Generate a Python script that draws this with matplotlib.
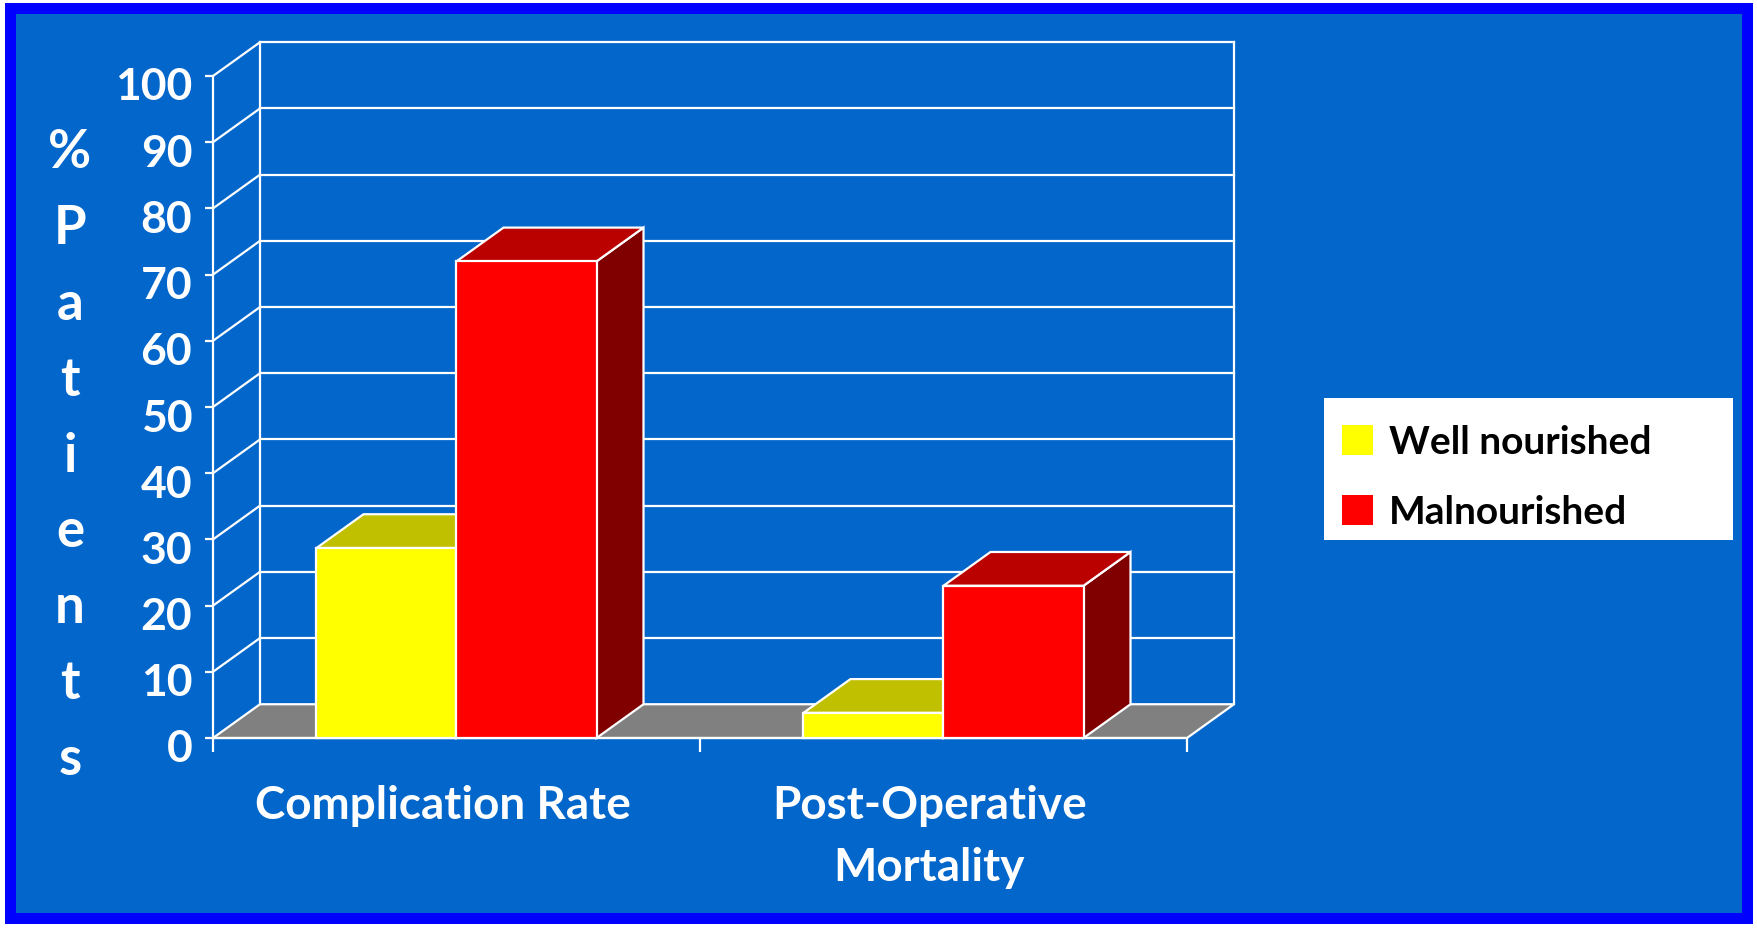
import matplotlib
matplotlib.use("Agg")
import matplotlib.pyplot as plt
from matplotlib.patches import Polygon, Rectangle, Patch
from matplotlib.transforms import ScaledTranslation

# data
categories = ["Complication Rate", "Post-Operative\nMortality"]
series_names = ["Well nourished", "Malnourished"]
well_nourished = [28.7, 3.8]
malnourished = [72, 23]
y_ticks = list(range(0, 101, 10))
y_label = "%\nP\na\nt\ni\ne\nn\nt\ns"

# style
BG = "#0366CB"
BORDER = "#0000FF"
FRONT = ["#FFFF00", "#FF0000"]
TOP = ["#C0C000", "#BB0000"]
SIDE = ["#808000", "#800000"]
FLOOR = "#808080"
DX, DY = 0.0965, 5.1      # fake depth, in data units
BAR_W = 0.2875

plt.rcParams['font.family'] = ['Lato', 'DejaVu Sans']
plt.rcParams['font.weight'] = 'bold'

W, H = 1758, 929
fig = plt.figure(figsize=(W / 100, H / 100), dpi=100, facecolor="white")

# slide background with blue frame
fig.patches.append(Rectangle((5 / W, 4 / H), 1748 / W, 921 / H, transform=fig.transFigure,
                             facecolor=BORDER, edgecolor="none", zorder=-10))
fig.patches.append(Rectangle((16 / W, 15 / H), 1726 / W, 899 / H, transform=fig.transFigure,
                             facecolor=BG, edgecolor="none", zorder=-9))

ax = fig.add_axes([213 / W, (H - 739) / H, 974 / W, 662 / H])
ax.set_xlim(0, 2)
ax.set_ylim(0, 100)
ax.patch.set_visible(False)
for s in ["top", "right", "bottom"]:
    ax.spines[s].set_visible(False)
ax.spines["left"].set_color("white")
ax.spines["left"].set_linewidth(1.6)

n = len(categories)
lw = 1.6
kw = dict(edgecolor="white", linewidth=lw, clip_on=False, joinstyle="miter")

# floor
ax.add_patch(Polygon([(0, 0), (n, 0), (n + DX, DY), (DX, DY)], facecolor=FLOOR, zorder=1, **kw))
# walls: left diagonals + back gridlines
for v in y_ticks[1:]:
    ax.plot([0, DX], [v, v + DY], color="white", lw=lw, clip_on=False, zorder=1)
    ax.plot([DX, n + DX], [v + DY, v + DY], color="white", lw=lw, clip_on=False, zorder=1)
ax.plot([DX, DX], [DY, 100 + DY], color="white", lw=lw, clip_on=False, zorder=1)
ax.plot([n + DX, n + DX], [DY, 100 + DY], color="white", lw=lw, clip_on=False, zorder=1)
ax.plot([0, n], [0, 0], color="white", lw=lw, clip_on=False, zorder=1)

# 3d bars
for i in range(n):
    for j, vals in enumerate([well_nourished, malnourished]):
        x0 = i + 0.5 - BAR_W + j * BAR_W
        x1 = x0 + BAR_W
        h = vals[i]
        z = 2 + j
        ax.add_patch(Polygon([(x1, 0), (x1 + DX, DY), (x1 + DX, h + DY), (x1, h)],
                             facecolor=SIDE[j], zorder=z, **kw))
        ax.add_patch(Polygon([(x0, h), (x1, h), (x1 + DX, h + DY), (x0 + DX, h + DY)],
                             facecolor=TOP[j], zorder=z, **kw))
        ax.add_patch(Rectangle((x0, 0), BAR_W, h, facecolor=FRONT[j], zorder=z, **kw))

# y axis ticks
ax.set_yticks(y_ticks)
ax.tick_params(axis="y", colors="white", length=6, width=1.6, labelsize=32, pad=9)
for lab in ax.get_yticklabels():
    lab.set_fontweight("bold")
    lab.set_transform(lab.get_transform() + ScaledTranslation(0, -0.07, fig.dpi_scale_trans))

# x axis: major ticks at group edges, category names as minor labels
ax.set_xticks(range(n + 1))
ax.set_xticklabels([])
ax.tick_params(axis="x", which="major", colors="white", length=10, width=1.6, direction="out")
ax.set_xticks([i + 0.5 for i in range(n)], minor=True)
ax.set_xticklabels(categories, minor=True, fontsize=33, fontweight="bold", color="white",
                   linespacing=1.6)
ax.tick_params(axis="x", which="minor", length=0, pad=33)
for lab in ax.get_xticklabels(minor=True):
    lab.set_transform(lab.get_transform() + ScaledTranslation(-0.14, 0, fig.dpi_scale_trans))

fig.text(70 / W, 1 - 456 / H, y_label, color="white", fontsize=38, fontweight="bold",
         ha="center", va="center", multialignment="center", linespacing=1.67)

# legend on a white box
fig.patches.append(Rectangle((1324 / W, 1 - 541 / H), 409 / W, 142 / H, transform=fig.transFigure,
                             facecolor="white", edgecolor="none", zorder=5))
handles = [Patch(facecolor=FRONT[k], edgecolor="none") for k in range(2)]
leg = fig.legend(handles, series_names, loc="center left",
                 bbox_to_anchor=(1342 / W, 1 - 478 / H), frameon=False,
                 fontsize=28, handlelength=0.8, handleheight=0.78, handletextpad=0.41,
                 labelspacing=0.9, borderpad=0, borderaxespad=0)
leg.set_zorder(6)
for t in leg.get_texts():
    t.set_fontweight("bold")
    t.set_color("black")

fig.savefig("out.png", dpi=100, facecolor=fig.get_facecolor())
